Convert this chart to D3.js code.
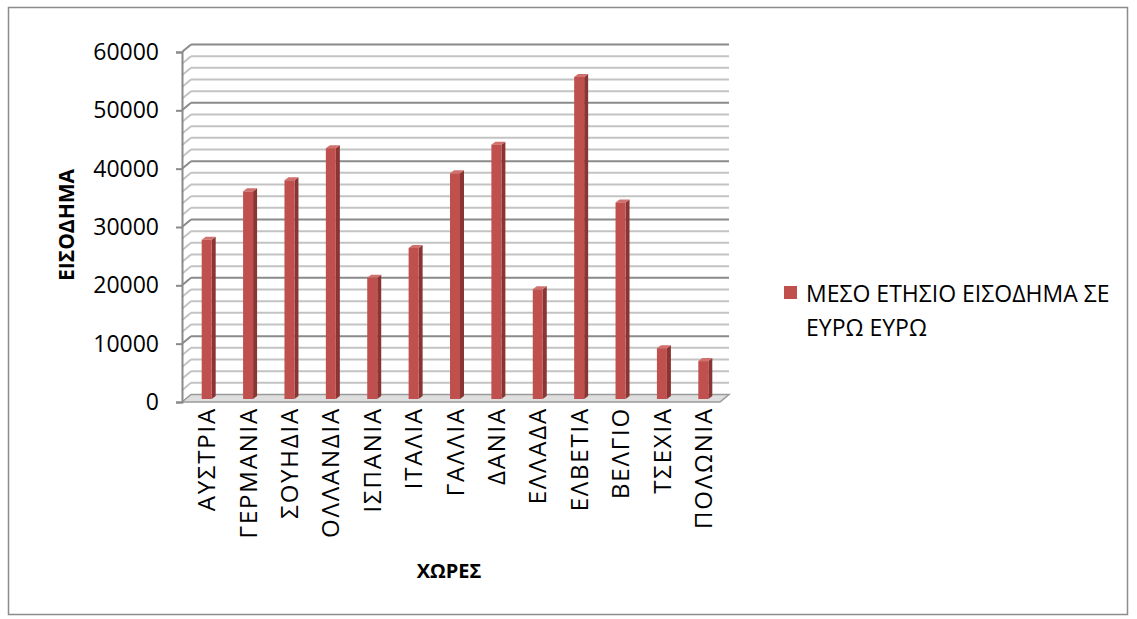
<!DOCTYPE html>
<html>
<head>
<meta charset="utf-8">
<script src="https://cdn.jsdelivr.net/npm/d3@7"></script>
<style>
  html, body { margin: 0; padding: 0; background: #ffffff; }
  svg { display: block; font-family: "Open Sans", "Noto Sans", sans-serif; }
</style>
</head>
<body>
<svg id="chart" width="1137" height="619"></svg>
<script>
// Average annual income per country (EUR)
const countries = ["ΑΥΣΤΡΙΑ", "ΓΕΡΜΑΝΙΑ", "ΣΟΥΗΔΙΑ", "ΟΛΛΑΝΔΙΑ", "ΙΣΠΑΝΙΑ", "ΙΤΑΛΙΑ",
  "ΓΑΛΛΙΑ", "ΔΑΝΙΑ", "ΕΛΛΑΔΑ", "ΕΛΒΕΤΙΑ", "ΒΕΛΓΙΟ", "ΤΣΕΧΙΑ", "ΠΟΛΩΝΙΑ"];
const income = [27300, 35600, 37500, 43000, 20800, 25900, 38700, 43600, 18800, 55200, 33700, 8700, 6500];
const seriesName = ["ΜΕΣΟ ΕΤΗΣΙΟ ΕΙΣΟΔΗΜΑ ΣΕ", "ΕΥΡΩ ΕΥΡΩ"];
const yTicks = [0, 10000, 20000, 30000, 40000, 50000, 60000];
const yMinorStep = 2000;
const yMax = 60000;
const yTitle = "ΕΙΣΟΔΗΜΑ";
const xTitle = "ΧΩΡΕΣ";

const svg = d3.select("#chart");

// frame around the whole chart
svg.append("rect")
  .attr("x", 8.5).attr("y", 7.5).attr("width", 1119).attr("height", 607)
  .attr("fill", "#fff").attr("stroke", "#8c8c8c").attr("stroke-width", 1.5);

// 3D plot box: front plane plus a receding depth offset
const front = { left: 182, right: 720, top: 52, bottom: 402 };
const depth = { dx: 9, dy: -7.5 };

const y = d3.scaleLinear().domain([0, yMax]).range([front.bottom, front.top]);
const x = d3.scaleBand().domain(countries).range([front.left, front.right]).paddingInner(0).paddingOuter(0);

const g = svg.append("g");

// gridlines on back wall and side wall
const minor = d3.range(0, yMax + 1, yMinorStep);
minor.forEach(v => {
  const major = v % 10000 === 0;
  const col = major ? "#8a8a8a" : "#c3c3c3";
  const yf = y(v), yb = yf + depth.dy;
  if (v === 0) return;
  g.append("line")
    .attr("x1", front.left + depth.dx).attr("x2", front.right + depth.dx)
    .attr("y1", yb).attr("y2", yb)
    .attr("stroke", col).attr("stroke-width", 2);
  g.append("line")
    .attr("x1", front.left).attr("x2", front.left + depth.dx)
    .attr("y1", yf).attr("y2", yb)
    .attr("stroke", col).attr("stroke-width", 2);
});

// floor
const floorPts = [
  [front.left, y(0)], [front.right, y(0)],
  [front.right + depth.dx, y(0) + depth.dy], [front.left + depth.dx, y(0) + depth.dy]
];
g.append("polygon")
  .attr("points", floorPts.map(p => p.join(",")).join(" "))
  .attr("fill", "#dedede").attr("stroke", "#9a9a9a").attr("stroke-width", 1.5);

// bars as 3D columns
const barW = 10, barShiftX = 4, barShiftY = -3, barDx = 4, barDy = -3;
const barFace = "#c0504d", barSide = "#8a3533", barTop = "#d0716e";
const bars = g.append("g").selectAll("g").data(countries).join("g");
bars.each(function (c, i) {
  const v = income[i];
  const xl = x(c) + x.bandwidth() / 2 + barShiftX - barW / 2;
  const xr = xl + barW;
  const yt = y(v) + barShiftY;
  const yb = y(0) + barShiftY;
  const sel = d3.select(this);
  sel.append("polygon")
    .attr("points", [[xr, yt], [xr + barDx, yt + barDy], [xr + barDx, yb + barDy], [xr, yb]].map(p => p.join(",")).join(" "))
    .attr("fill", barSide);
  sel.append("polygon")
    .attr("points", [[xl, yt], [xr, yt], [xr + barDx, yt + barDy], [xl + barDx, yt + barDy]].map(p => p.join(",")).join(" "))
    .attr("fill", barTop);
  sel.append("rect")
    .attr("x", xl).attr("y", yt).attr("width", barW).attr("height", yb - yt)
    .attr("fill", barFace);
});

// vertical axis with ticks
const yAxis = d3.axisLeft(y).tickValues(yTicks).tickSize(6).tickPadding(17).tickFormat(d3.format("d"));
const ya = svg.append("g").attr("transform", `translate(${front.left},0)`).call(yAxis);
ya.select(".domain").attr("stroke", "#8a8a8a").attr("stroke-width", 2);
ya.selectAll(".tick line").attr("stroke", "#8a8a8a").attr("stroke-width", 2);
ya.selectAll(".tick text")
  .attr("fill", "#000").style("font-size", "23px").style("font-family", "'Open Sans', sans-serif");

// category labels, rotated
svg.append("g").selectAll("text").data(countries).join("text")
  .attr("transform", c => `translate(${x(c) + x.bandwidth() / 2 + 4},407) rotate(-90)`)
  .attr("text-anchor", "end").attr("dy", "0.36em")
  .style("font-size", "24px").style("letter-spacing", "1.8px").attr("fill", "#000")
  .text(c => c);

// axis titles
svg.append("text")
  .attr("transform", "translate(66,225) rotate(-90)")
  .attr("text-anchor", "middle").attr("dy", "0.36em")
  .style("font-size", "21px").style("font-weight", "bold")
  .text(yTitle);
svg.append("text")
  .attr("x", 449).attr("y", 578)
  .attr("text-anchor", "middle")
  .style("font-size", "20px").style("font-weight", "bold")
  .text(xTitle);

// legend
const lg = svg.append("g");
lg.append("rect").attr("x", 784).attr("y", 286).attr("width", 13).attr("height", 13).attr("fill", barFace);
lg.selectAll("text").data(seriesName).join("text")
  .attr("x", 806).attr("y", (d, i) => 302 + i * 34)
  .style("font-size", "23px").attr("fill", "#000")
  .text(d => d);
</script>
</body>
</html>
